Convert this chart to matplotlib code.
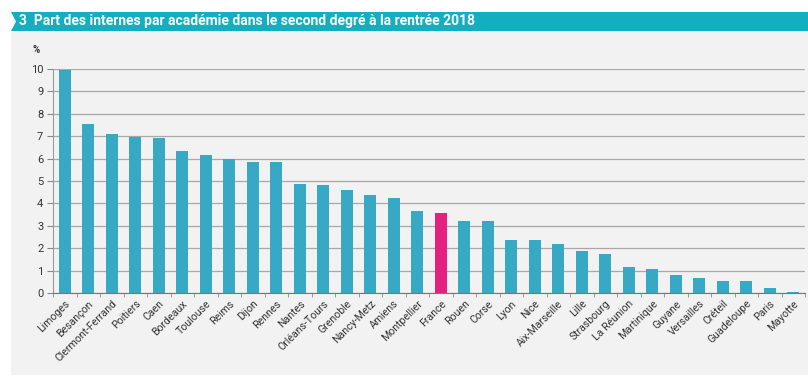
import numpy as np
import matplotlib.pyplot as plt
from matplotlib.patches import Polygon, Rectangle

# -------------------------
# Data
# -------------------------
academies = ["Limoges", "Besançon", "Clermont-Ferrand", "Poitiers", "Caen", "Bordeaux",
             "Toulouse", "Reims", "Dijon", "Rennes", "Nantes", "Orléans-Tours", "Grenoble",
             "Nancy-Metz", "Amiens", "Montpellier", "France", "Rouen", "Corse", "Lyon",
             "Nice", "Aix-Marseille", "Lille", "Strasbourg", "La Réunion", "Martinique",
             "Guyane", "Versailles", "Créteil", "Guadeloupe", "Paris", "Mayotte"]
part_internes = [9.94, 7.54, 7.11, 6.97, 6.9, 6.36, 6.14, 5.97, 5.84, 5.83, 4.85, 4.82, 4.6,
                 4.37, 4.22, 3.65, 3.56, 3.23, 3.21, 2.35, 2.35, 2.2, 1.89, 1.74, 1.18, 1.09,
                 0.79, 0.66, 0.55, 0.55, 0.21, 0.05]
yticks = list(range(0, 11))
title = "3  Part des internes par académie dans le second degré à la rentrée 2018"

plt.rcParams['font.family'] = ['Roboto', 'DejaVu Sans']

W, H = 808, 378
fig = plt.figure(figsize=(W / 100, H / 100), dpi=100)
fig.patch.set_facecolor("white")

# fond gris + bandeau titre
fig.patches.append(Rectangle((11 / W, 3 / H), 1 - 11 / W, (H - 31 - 3) / H,
                             transform=fig.transFigure, facecolor="#f2f2f2",
                             edgecolor="none", zorder=-5))
fig.patches.append(Polygon([(11 / W, 1 - 12 / H), (1, 1 - 12 / H), (1, 1 - 31 / H),
                            (11 / W, 1 - 31 / H), (16 / W, 1 - 21.5 / H)],
                           closed=True, transform=fig.transFigure,
                           facecolor="#13aebf", edgecolor="none", zorder=-5))
fig.text(19 / W, 1 - 21.5 / H, title, color="white", fontsize=10, fontweight="bold",
         va="center", ha="left")

# -------------------------
# Axes
# -------------------------
ax = fig.add_axes([53 / W, (H - 293) / H, (805 - 53) / W, (293 - 69) / H])
ax.set_facecolor("none")
ax.set_zorder(2)

x = np.arange(len(academies))
colors = ["#e5217f" if a == "France" else "#38a9c5" for a in academies]
ax.bar(x, part_internes, width=0.5, color=colors, zorder=3)

ax.set_xlim(-0.5, len(academies) - 0.5)
ax.set_ylim(0, 10)
ax.set_yticks(yticks)
ax.yaxis.grid(True, color="#a8a8a8", linewidth=0.9, zorder=1)
ax.tick_params(axis="y", length=4, color="#888888", labelsize=8, labelcolor="#333333", pad=3)

ax.set_xticks(x)
ax.set_xticklabels(academies, rotation=45, ha="right", rotation_mode="anchor",
                   fontsize=7.6, color="#333333")
ax.set_xticks(np.arange(-0.5, len(academies), 1), minor=True)
ax.tick_params(axis="x", which="major", length=0, pad=4)
ax.tick_params(axis="x", which="minor", length=3, color="#888888")

for s in ["top", "right"]:
    ax.spines[s].set_visible(False)
ax.spines["left"].set_color("#999999")
ax.spines["bottom"].set_color("#777777")

fig.text(36 / W, 1 - 50 / H, "%", fontsize=7, fontweight="bold", color="#333333",
         ha="center", va="center")

fig.savefig("out.png", dpi=100)
